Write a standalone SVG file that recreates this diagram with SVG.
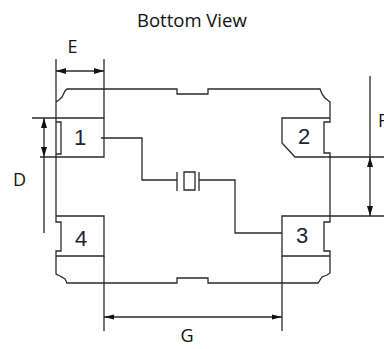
<svg xmlns="http://www.w3.org/2000/svg" width="384" height="349" viewBox="0 0 384 349">
<style>
.l{fill:none;stroke:#2a2a2a;stroke-width:1.3}
.t{font-family:"Open Sans","Liberation Sans",sans-serif;font-size:18px;fill:#111}
.n{font-family:"Liberation Sans",sans-serif;font-size:22px;fill:#223;text-anchor:middle}
.a{fill:#111}
</style>
<rect width="384" height="349" fill="#fff"/>
<text class="t" x="137" y="27" font-size="18.500" style="font-size:18.5px">Bottom View</text>
<text class="t" x="67.500" y="53">E</text>
<text class="t" x="13" y="186">D</text>
<text class="t" x="378" y="127">F</text>
<text class="t" x="180.500" y="342">G</text>
<g id="body">
<path class="l" d="M56 102 L59 100 L62 97 L65 91 L67 89 L177 89 L177 94 L208 94 L208 89 L320 89 L322 94 L325 98 L330 102 L330 122 L324 122 L324 153 L330 153 L330 216 L330 222 L324 222 L324 251 L330 251 L330 273 L327 275 L322 277 L318 283 L208 283 L208 278 L177 278 L177 283 L67 283 L65 279 L60 276 L56 274 L56 251 L61 251 L61 222 L56 222 L56 59"/>
</g>
<g id="node-1"><path class="l" d="M32 118 L104 118 L104 157 L40 157 M56 122 L61 122 L61 154 L56 154"/><text class="n" x="80" y="145">1</text></g>
<g id="node-2"><path class="l" d="M330 118 L282 118 L282 143 L295 157 L384 157"/><text class="n" x="304" y="144">2</text></g>
<g id="node-3"><path class="l" d="M384 216 L282 216 L282 256 L330 256"/><text class="n" x="302" y="243">3</text></g>
<g id="node-4"><path class="l" d="M56 216 L104 216 L104 256 L56 256"/><text class="n" x="81" y="246">4</text></g>
<g id="connectors">
<path class="l" d="M101 138 L142 138 L142 180 L177 180 M177 172 L177 191 M184 172 L195 172 L195 190 L184 190 Z M199 172 L199 191 M199 180 L235 180 L235 233 L282 233"/>
<path class="l" d="M104 59 L104 118 M104 256 L104 331 M282 256 L282 331 M56 71 L104 71 M104 317 L282 317 M44 118 L44 233 M370 76 L370 216"/>
<path class="a" d="M56 71 L66 68 L66 74 Z M104 71 L94 68 L94 74 Z M44 118 L41 128 L47 128 Z M44 157 L41 147 L47 147 Z M370 157 L367 167 L373 167 Z M370 216 L367 206 L373 206 Z M104 317 L114 314.500 L114 319.500 Z M282 317 L272 314.500 L272 319.500 Z"/>
</g>
</svg>
